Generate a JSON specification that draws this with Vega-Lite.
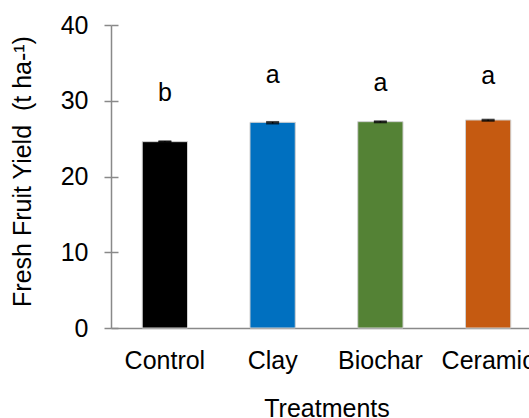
{
  "$schema": "https://vega.github.io/schema/vega-lite/v6.json",
  "width": 431,
  "height": 303,
  "autosize": "none",
  "padding": {"left": 111, "top": 25, "right": 0, "bottom": 90},
  "config": {
    "font": "Liberation Sans",
    "view": {"stroke": null},
    "axis": {"grid": false, "labelFont": "Liberation Sans", "titleFont": "Liberation Sans", "labelColor": "#000000", "titleColor": "#000000", "domainColor": "#898989", "tickColor": "#898989", "labelFontSize": 25, "titleFontSize": 25, "titleFontWeight": "normal", "domainWidth": 1.5, "tickWidth": 1.5}
  },
  "data": {
    "values": [
      {"Treatment": "Control", "Yield": 24.6, "lo": 24.56, "hi": 24.64, "sig": "b", "sigY": 30.0},
      {"Treatment": "Clay", "Yield": 27.15, "lo": 27.0, "hi": 27.2, "sig": "a", "sigY": 32.3},
      {"Treatment": "Biochar", "Yield": 27.24, "lo": 27.15, "hi": 27.28, "sig": "a", "sigY": 31.3},
      {"Treatment": "Ceramic", "Yield": 27.46, "lo": 27.35, "hi": 27.5, "sig": "a", "sigY": 32.2}
    ]
  },
  "encoding": {
    "x": {
      "field": "Treatment", "type": "nominal", "sort": null,
      "scale": {"paddingInner": 0.58, "paddingOuter": 0.29},
      "axis": {"title": "Treatments", "labelAngle": 0, "ticks": false, "tickSize": 0, "labelPadding": 20, "titlePadding": 23}
    }
  },
  "layer": [
    {
      "mark": {"type": "bar", "stroke": "#d0d0d0", "strokeWidth": 1},
      "encoding": {
        "y": {
          "field": "Yield", "type": "quantitative",
          "scale": {"domain": [0, 40], "nice": false},
          "axis": {"values": [0, 10, 20, 30, 40], "tickSize": 7, "labelPadding": 16, "title": "Fresh Fruit Yield\u00a0\u00a0(t ha-¹)", "titlePadding": 25, "titleY": 146}
        },
        "color": {
          "field": "Treatment", "type": "nominal", "sort": null, "legend": null,
          "scale": {"domain": ["Control", "Clay", "Biochar", "Ceramic"], "range": ["#000000", "#0070C0", "#548235", "#C55A11"]}
        }
      }
    },
    {
      "mark": {"type": "rule", "color": "#000000", "strokeWidth": 1.5},
      "encoding": {
        "y": {
          "field": "lo", "type": "quantitative",
          "axis": {"orient": "right", "offset": -431, "values": [0, 10, 20, 30, 40], "labels": false, "domain": false, "ticks": true, "tickSize": 7, "title": null}
        },
        "y2": {"field": "hi"}
      }
    },
    {
      "mark": {"type": "tick", "color": "#000000", "thickness": 2, "size": 13},
      "encoding": {"y": {"field": "hi", "type": "quantitative", "axis": null}}
    },
    {
      "mark": {"type": "tick", "color": "#000000", "thickness": 2, "size": 13},
      "encoding": {"y": {"field": "lo", "type": "quantitative", "axis": null}}
    },
    {
      "mark": {"type": "text", "fontSize": 25, "baseline": "alphabetic", "color": "#000000", "font": "Liberation Sans"},
      "encoding": {
        "y": {"field": "sigY", "type": "quantitative", "axis": null},
        "text": {"field": "sig"}
      }
    }
  ],
  "resolve": {"axis": {"y": "independent"}}
}
